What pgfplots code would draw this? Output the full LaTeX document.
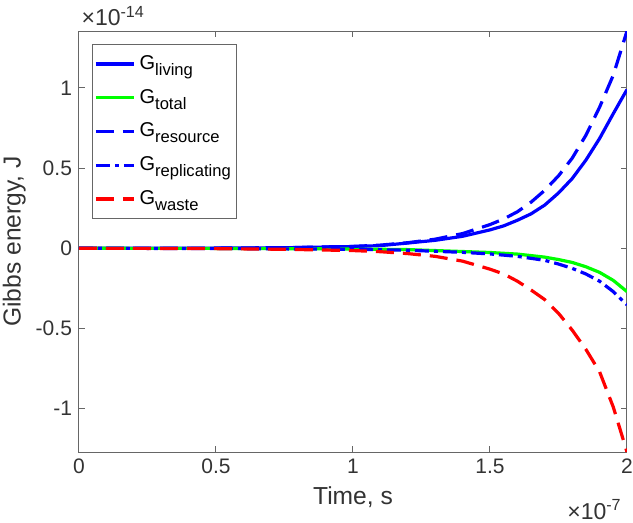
\documentclass[border=0pt]{standalone}
\usepackage{fontspec}
\setmainfont{Liberation Sans}
\usepackage{pgfplots}
\pgfplotsset{compat=1.18}
\definecolor{axgray}{gray}{0.4}
\definecolor{txtgray}{gray}{0.2}
\newcommand{\sub}[1]{\raisebox{-3pt}{\fontsize{8.3}{10}\selectfont #1}}
\begin{document}
\begin{tikzpicture}
\begin{axis}[
  scale only axis, width=274pt, height=210.5pt,
  clip mode=individual,
  xmin=0, xmax=2, ymin=-1.27, ymax=1.355,
  xtick={0,0.5,1,1.5,2}, xticklabels={0,0.5,1,1.5,2},
  ytick={-1,-0.5,0,0.5,1}, yticklabels={-1,-0.5,0,0.5,1},
  tick align=inside, xtick pos=both, ytick pos=both,
  major tick length=3pt,
  axis line style={axgray, line width=0.5pt},
  tick style={axgray, line width=0.5pt},
  every tick label/.append style={font=\fontsize{10.5}{12}\selectfont, text=txtgray},
  xlabel={Time, s}, ylabel={Gibbs energy, J},
  label style={font=\fontsize{12.3}{14}\selectfont, text=txtgray},
  xlabel style={at={(axis description cs:0.5,-0.107)}, anchor=center},
  ylabel style={at={(axis description cs:-0.118,0.5)}, anchor=center},
  legend style={at={(axis description cs:0.0237,0.969)}, anchor=north west,
    draw=axgray, fill=white, font=\fontsize{10}{12}\selectfont,
    row sep=4.4pt, inner xsep=1pt, inner ysep=3.5pt},
  legend cell align=left,
  legend image code/.code={\draw[#1] (0pt,0pt) -- (19pt,0pt);},
]
% G_living
\addplot[blue, line width=1.6pt] coordinates {
(0,0) (0.25,0.0004) (0.5,0.0012) (0.75,0.0036) (1.0,0.011) (1.1,0.017) (1.2,0.033)
(1.3,0.05) (1.4,0.075) (1.5,0.115) (1.55,0.14) (1.6,0.175) (1.65,0.215) (1.7,0.27)
(1.75,0.345) (1.8,0.435) (1.85,0.55) (1.9,0.685) (1.95,0.84) (2.0,0.99)};
\addlegendentry{G\sub{living}}
% G_total
\addplot[green, line width=1.6pt] coordinates {
(0,0) (0.5,-0.0005) (1.0,-0.004) (1.2,-0.008) (1.4,-0.02) (1.5,-0.026) (1.6,-0.036)
(1.7,-0.055) (1.75,-0.07) (1.8,-0.088) (1.85,-0.115) (1.9,-0.15) (1.95,-0.2) (2.0,-0.27)};
\addlegendentry{G\sub{total}}
% G_resource
\addplot[blue, line width=1.6pt, dash pattern=on 9pt off 4.5pt] coordinates {
(0,0) (0.25,0.0005) (0.5,0.0015) (0.75,0.004) (1.0,0.012) (1.1,0.02) (1.2,0.035)
(1.3,0.057) (1.4,0.092) (1.5,0.148) (1.55,0.183) (1.6,0.228) (1.65,0.288) (1.7,0.362)
(1.75,0.452) (1.8,0.562) (1.85,0.705) (1.9,0.88) (1.95,1.08) (2.0,1.355)};
\addlegendentry{G\sub{resource}}
% G_replicating
\addplot[blue, line width=1.6pt, dash pattern=on 7pt off 2.5pt on 2pt off 2.5pt] coordinates {
(0,0) (0.5,-0.001) (1.0,-0.006) (1.2,-0.012) (1.4,-0.025) (1.5,-0.035) (1.6,-0.05)
(1.7,-0.075) (1.75,-0.098) (1.8,-0.125) (1.85,-0.16) (1.9,-0.205) (1.95,-0.27) (2.0,-0.353)};
\addlegendentry{G\sub{replicating}}
% G_waste
\addplot[red, line width=1.6pt, dash pattern=on 9pt off 4.5pt] coordinates {
(0,0) (0.25,-0.0005) (0.5,-0.002) (0.75,-0.006) (1.0,-0.014) (1.1,-0.021) (1.2,-0.033)
(1.3,-0.05) (1.4,-0.08) (1.5,-0.13) (1.55,-0.16) (1.6,-0.205) (1.65,-0.26) (1.7,-0.32)
(1.75,-0.405) (1.8,-0.51) (1.85,-0.63) (1.9,-0.77) (1.95,-0.99) (2.0,-1.27)};
\addlegendentry{G\sub{waste}}
\node[anchor=base west, inner sep=0pt, font=\fontsize{11.5}{13}\selectfont, text=txtgray]
  at (axis description cs:0.004,1.012) {×10\textsuperscript{-14}};
\node[anchor=base east, inner sep=0pt, font=\fontsize{11.5}{13}\selectfont, text=txtgray]
  at (axis description cs:0.991,-0.16) {×10\textsuperscript{-7}};
\end{axis}
\pgfresetboundingbox
\path ([shift={(-39.5pt,-35pt)}]current axis.south west) rectangle ([shift={(3pt,15.5pt)}]current axis.north east);
\end{tikzpicture}
\end{document}
